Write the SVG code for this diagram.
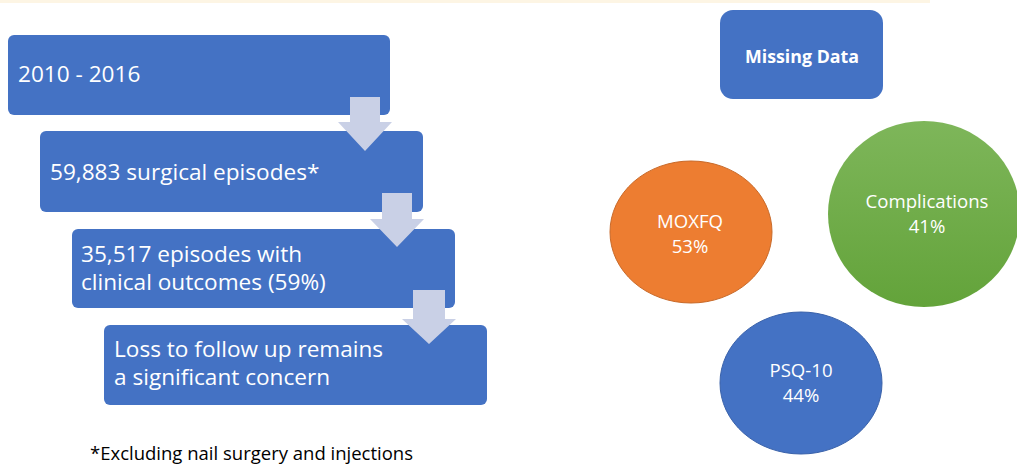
<svg xmlns="http://www.w3.org/2000/svg" width="1017" height="467" viewBox="0 0 1017 467">
<defs>
<style>
.box{fill:#4472C4;}
.arr{fill:#C9D0E6;}
.t{font-family:"Open Sans","Liberation Sans",sans-serif;fill:#ffffff;}
.big{font-size:22.6px;}
.mid{font-size:18.6px;}
.fn{font-family:"Open Sans","Liberation Sans",sans-serif;font-size:18.5px;fill:#000000;}
</style>
<linearGradient id="g" x1="0" y1="0" x2="0" y2="1">
<stop offset="0" stop-color="#7EB65A"/>
<stop offset="1" stop-color="#63A33A"/>
</linearGradient>
</defs>
<rect x="0" y="0" width="930" height="3" fill="#FDF5E4"/>
<g id="step1"><rect class="box" x="8" y="35" width="382" height="80" rx="6"/><text class="t big" x="18" y="82">2010 - 2016</text></g>
<g id="step2"><rect class="box" x="40" y="131" width="383" height="81" rx="6"/><text class="t big" x="50" y="180">59,883 surgical episodes*</text></g>
<g id="step3"><rect class="box" x="72" y="229" width="383" height="79" rx="6"/><text class="t big" x="81" y="262">35,517 episodes with</text><text class="t big" x="81" y="290">clinical outcomes (59%)</text></g>
<g id="step4"><rect class="box" x="104" y="325" width="383" height="80" rx="6"/><text class="t big" x="114" y="357">Loss to follow up remains</text><text class="t big" x="114" y="385">a significant concern</text></g>
<g id="connectors">
<polygon class="arr" points="350,97 380,97 380,122 392,122 365,151 338,122 350,122"/>
<polygon class="arr" points="382,193 412,193 412,219 424,219 397,247 370,219 382,219"/>
<polygon class="arr" points="413,290 445,290 445,319 456,319 429,344 402,319 413,319"/>
</g>
<text class="fn" x="90" y="460">*Excluding nail surgery and injections</text>
<g id="missing"><rect class="box" x="720" y="10" width="163" height="89" rx="13"/><text class="t" x="802" y="63" font-size="17.8" font-weight="bold" text-anchor="middle">Missing Data</text></g>
<g id="moxfq"><ellipse cx="691" cy="232" rx="81" ry="71" fill="#ED7D31" stroke="#C86A2A" stroke-width="1"/><text class="t mid" x="690" y="228" text-anchor="middle">MOXFQ</text><text class="t mid" x="690" y="253" text-anchor="middle">53%</text></g>
<g id="complications"><ellipse cx="924" cy="214" rx="96" ry="93" fill="url(#g)"/><text class="t mid" x="927" y="208" text-anchor="middle">Complications</text><text class="t mid" x="927" y="233" text-anchor="middle">41%</text></g>
<g id="psq"><ellipse cx="801" cy="383" rx="81" ry="71" fill="#4472C4" stroke="#3A62AA" stroke-width="1"/><text class="t mid" x="801" y="377" text-anchor="middle">PSQ-10</text><text class="t mid" x="801" y="402" text-anchor="middle">44%</text></g>
</svg>
